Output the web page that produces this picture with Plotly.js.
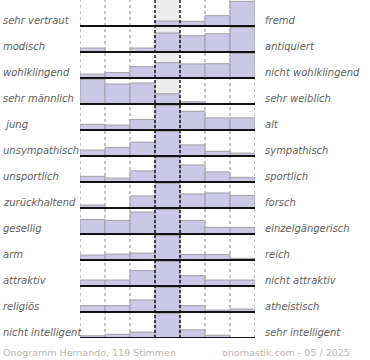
<!DOCTYPE html>
<html>
<head>
<meta charset="utf-8">
<script src="https://cdn.plot.ly/plotly-3.0.1.min.js"></script>
<style>html,body{margin:0;padding:0;background:#fff;}#chart{width:370px;height:360px;}</style>
</head>
<body>
<div id="chart"></div>
<script>
// Left / right adjective pairs (top to bottom)
const leftLabels = ["sehr vertraut","modisch","wohlklingend","sehr männlich","\u00a0jung","unsympathisch","unsportlich","zurückhaltend","gesellig","arm","attraktiv","religiös","nicht intelligent"];
const rightLabels = ["fremd","antiquiert","nicht wohlklingend","sehr weiblich","alt","sympathisch","sportlich","forsch","einzelgängerisch","reich","nicht attraktiv","atheistisch","sehr intelligent"];
// 7-step scale positions
const scale = [1,2,3,4,5,6,7];
// relative bar heights per row (row maximum = 100)
const row01 = [0,0,0,20,19,42,100];
const row02 = [16,0,16,77,66,74,100];
const row03 = [16,22,46,62,57,58,100];
const row04 = [100,81,85,41,9,0,0];
const row05 = [23,20,43,100,76,49,49];
const row06 = [24,35,56,100,45,19,12];
const row07 = [23,16,45,100,69,41,19];
const row08 = [12,0,49,100,57,61,51];
const row09 = [59,55,89,100,55,27,27];
const row10 = [20,24,28,100,22,22,7];
const row11 = [24,24,63,100,42,24,24];
const row12 = [26,26,49,100,26,8,12];
const row13 = [9,15,24,100,33,11,0];
const footerLeft = "Onogramm Hernando, 119 Stimmen";
const footerRight = "onomastik.com - 05 / 2025";

const rows = [row01,row02,row03,row04,row05,row06,row07,row08,row09,row10,row11,row12,row13];
const nRows = rows.length;
const rowScale = 0.95; // fraction of a row band used by the maximum

const traces = rows.map((vals, i) => {
  const base = nRows - 1 - i;
  return {
    type: 'bar',
    x: scale,
    y: vals.map(v => v / 100 * rowScale),
    base: vals.map(() => base),
    width: 1,
    marker: {color: '#cac7e7', line: {color: '#a0a0a0', width: 1}},
    hoverinfo: 'skip',
    showlegend: false
  };
});

const shapes = [];
// centre column background
shapes.push({type:'rect', xref:'x', yref:'paper', x0:3.5, x1:4.5, y0:0, y1:1, fillcolor:'#ececec', line:{width:0}, layer:'below'});
// dotted column separators
[0.5,1.5,2.5,5.5,6.5,7.5].forEach(xv => shapes.push({type:'line', xref:'x', yref:'paper', x0:xv, x1:xv, y0:0, y1:1, line:{color:'#8a8a8a', width:1, dash:'dot'}, layer:'below'}));
// dashed centre boundaries
[3.5,4.5].forEach(xv => shapes.push({type:'line', xref:'x', yref:'paper', x0:xv, x1:xv, y0:0, y1:1, line:{color:'#000', width:1.3, dash:'3px,2px'}, layer:'above'}));
// row baselines
rows.forEach((vals, i) => {
  const base = nRows - 1 - i;
  shapes.push({type:'line', xref:'x', yref:'y', x0:0.5, x1:7.5, y0:base, y1:base, line:{color:'#111', width:2}, layer:'above'});
});

const labelFont = {family:'DejaVu Sans', size:10, color:'#606060', style:'italic'};
const annotations = [];
rows.forEach((vals, i) => {
  const yv = nRows - 1 - i + 0.2;
  annotations.push({xref:'paper', yref:'y', x:-79/175, y:yv, xanchor:'left', yanchor:'middle', text:leftLabels[i], showarrow:false, font:labelFont});
  annotations.push({xref:'paper', yref:'y', x:183/175, y:yv, xanchor:'left', yanchor:'middle', text:rightLabels[i], showarrow:false, font:labelFont});
});
const footFont = {family:'DejaVu Sans', size:9.5, color:'#b8b8b8'};
annotations.push({xref:'paper', yref:'paper', x:-79/175, y:-14/338, xanchor:'left', yanchor:'middle', text:footerLeft, showarrow:false, font:footFont});
annotations.push({xref:'paper', yref:'paper', x:140/175, y:-14/338, xanchor:'left', yanchor:'middle', text:footerRight, showarrow:false, font:footFont});

const layout = {
  width:370, height:360,
  margin:{l:80, r:115, t:0, b:22},
  paper_bgcolor:'#fff', plot_bgcolor:'#fff',
  barmode:'overlay', bargap:0,
  xaxis:{range:[0.5,7.5], showgrid:false, zeroline:false, showticklabels:false, ticks:'', fixedrange:true},
  yaxis:{range:[0,nRows], showgrid:false, zeroline:false, showticklabels:false, ticks:'', fixedrange:true},
  shapes:shapes,
  annotations:annotations,
  font:{family:'DejaVu Sans'}
};

Plotly.newPlot('chart', traces, layout, {displayModeBar:false, staticPlot:true});
</script>
</body>
</html>
